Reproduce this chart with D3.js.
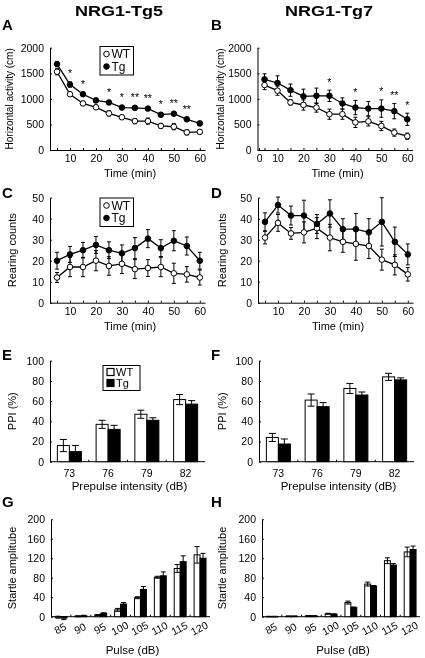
<!DOCTYPE html>
<html><head><meta charset="utf-8">
<script src="https://cdn.jsdelivr.net/npm/d3@7"></script>
<style>
body{margin:0;background:#fff}
svg{display:block;filter:grayscale(100%)}
text{font-family:"Liberation Sans",Arial,Helvetica,sans-serif;fill:#000}
</style>
</head><body>
<svg id="c" width="425" height="658"></svg>
<script>
// ---------- DATA ----------
const timeMin = [5,10,15,20,25,30,35,40,45,50,55,60];

const aWT    = [1530,1090,910,835,715,640,565,565,470,455,345,355];
const aWTErr = [60,40,40,40,50,40,50,60,50,60,50,40];
const aTg    = [1680,1280,1090,970,930,830,825,810,690,710,600,520];
const aTgErr = [50,50,40,40,35,40,40,35,35,35,40,40];

const bWT    = [1270,1160,930,880,830,700,700,540,560,470,340,270];
const bWTErr = [90,90,50,100,90,100,100,100,90,90,70,60];
const bTg    = [1380,1310,1170,1050,1060,1060,910,830,810,810,760,600];
const bTgErr = [110,140,120,140,150,110,110,140,140,170,150,120];

const cWT    = [12,17,17,20,17.5,18.5,16,16.5,17,14,13.5,12];
const cWTErr = [2.4,4.6,4.6,4.8,4.4,4.6,4.5,4,4.6,4.8,3.7,3.6];
const cTg    = [20,23,25,27.5,25,23.5,26,30.5,26,29.5,27,20];
const cTgErr = [4,3.8,3.7,4,4,4,5,4.3,4,4.8,4.3,4];

const dWT    = [31,38,33,33.5,35.5,31,29,28,27,20.5,18,13.5];
const dWTErr = [3,4,2.8,5,5,6.3,5,7.8,6,5,4.8,3.2];
const dTg    = [38.5,46.5,41.5,41.5,37.5,42.5,35,35,33.5,38.5,29,23];
const dTgErr = [4.3,3.8,4.5,7.3,4.5,6.5,5,7.5,6.5,11.5,7,5];

const sigA = [{t:10,s:"*"},{t:15,s:"*"},{t:25,s:"*"},{t:30,s:"*"},{t:35,s:"**"},{t:40,s:"**"},{t:45,s:"*"},{t:50,s:"**"},{t:55,s:"**"}];
const sigB = [{t:30,s:"*"},{t:40,s:"*"},{t:50,s:"*"},{t:55,s:"**"},{t:60,s:"*"}];

const prepulse = ["73","76","79","82"];
const eWT    = [16,37,47,61.5];
const eWTErr = [6,4,4,5];
const eTg    = [10,32,41,57];
const eTgErr = [6,4,2.5,3.5];
const fWT    = [24,61,72.5,84];
const fWTErr = [4,6,5,3.5];
const fTg    = [17.5,54.5,66,81];
const fTgErr = [5,4,3,2];

const pulse = ["85","90","95","100","105","110","115","120"];
const gWT    = [-1,1,3.5,14,39,81,99,127];
const gWTErr = [2,1,1,3,2,2,8,17];
const gTg    = [-3,2,7,26,56,84,113,120];
const gTgErr = [3,1,1,3,6,8,12,10];
const hWT    = [0.5,1,2,6,29,67,115,133];
const hWTErr = [0.3,0.5,0.5,1,3,4,6,10];
const hTg    = [0.5,1,1.5,5,19,63,106,138];
const hTgErr = [0.3,0.5,0.5,1,1,1,3,7];

const lineYTicksA = [0,500,1000,1500,2000];
const lineYTicksC = [0,10,20,30,40,50];
const ppiYTicks = [0,20,40,60,80,100];
const startleYTicks = [0,40,80,120,160,200];

// ---------- DRAWING ----------
const FONT = '"Liberation Sans",Arial,Helvetica,sans-serif';
const svg = d3.select("#c");

function styleAxis(g, fs){
  g.attr("font-family", FONT).attr("font-size", fs);
  g.selectAll("path.domain").attr("stroke","#000").attr("stroke-width",1);
  g.selectAll(".tick line").attr("stroke","#000");
  g.selectAll(".tick text").attr("fill","#000");
}

function txt(x, y, s, o={}){
  const parent = o.parent || svg;
  const t = parent.append("text").attr("x",x).attr("y",y).text(s)
    .attr("font-size", o.fs || 11)
    .attr("text-anchor", o.anchor || "middle")
    .attr("fill","#000");
  if (o.bold) t.attr("font-weight","bold");
  if (o.rot) t.attr("transform",`rotate(${o.rot},${x},${y})`);
  if (o.len) t.attr("textLength", o.len).attr("lengthAdjust","spacingAndGlyphs");
  return t;
}

function linePanel(o){
  const x = d3.scaleLinear().domain([2.3,62]).range([o.x0, o.x0+155]);
  const y = d3.scaleLinear().domain([0, o.yTicks[o.yTicks.length-1]]).range([o.yb, o.yt]);
  const xTicks = (o.zeroLabel ? [2.9] : []).concat(d3.range(5,61,5));
  const xa = d3.axisBottom(x).tickValues(xTicks)
    .tickFormat(d => d < 5 ? "0" : (d % 10 === 0 ? String(d) : ""))
    .tickSizeInner(-2).tickSizeOuter(0).tickPadding(5);
  styleAxis(svg.append("g").attr("transform",`translate(0,${o.yb})`).call(xa), 10.5);
  const ya = d3.axisLeft(y).tickValues(o.yTicks).tickFormat(d=>String(d))
    .tickSizeInner(-2).tickSizeOuter(0).tickPadding(6);
  styleAxis(svg.append("g").attr("transform",`translate(${o.x0},0)`).call(ya), 10.5);

  const line = d3.line().x((d,i)=>x(timeMin[i])).y(d=>y(d));
  const series = [{v:o.wt, e:o.wtErr, fill:"#fff"},{v:o.tg, e:o.tgErr, fill:"#000"}];
  const g = svg.append("g");
  series.forEach(s=>{
    g.append("path").attr("d", line(s.v)).attr("fill","none").attr("stroke","#000").attr("stroke-width",1.3);
  });
  series.forEach(s=>{
    s.v.forEach((v,i)=>{
      const cx = x(timeMin[i]), y1 = y(v - s.e[i]), y2 = y(v + s.e[i]);
      g.append("line").attr("x1",cx).attr("x2",cx).attr("y1",y1).attr("y2",y2).attr("stroke","#000").attr("stroke-width",1);
      [y1,y2].forEach(yy=>g.append("line").attr("x1",cx-2).attr("x2",cx+2).attr("y1",yy).attr("y2",yy).attr("stroke","#000").attr("stroke-width",1));
    });
  });
  series.forEach(s=>{
    s.v.forEach((v,i)=>{
      g.append("circle").attr("cx",x(timeMin[i])).attr("cy",y(v)).attr("r",2.8)
        .attr("fill",s.fill).attr("stroke","#000").attr("stroke-width",1);
    });
  });
  if (o.sig){
    const sg = svg.append("g").attr("class","stars");
    o.sig.forEach(d=>{
      const i = timeMin.indexOf(d.t);
      txt(x(d.t), y(o.tg[i] + o.tgErr[i]) - 4.5, d.s, {fs:10.5, parent:sg});
    });
  }
  if (o.legend){
    const L = o.legend;
    svg.append("rect").attr("x",L.x).attr("y",L.y).attr("width",33.5).attr("height",28.5)
      .attr("fill","#fff").attr("stroke","#000").attr("stroke-width",1);
    [["WT","#fff"],["Tg","#000"]].forEach((e,k)=>{
      const cy = L.y + 7.5 + k*12.5;
      svg.append("circle").attr("cx",L.x+6.5).attr("cy",cy).attr("r",2.8).attr("fill",e[1]).attr("stroke","#000");
      txt(L.x+11.5, cy+4.3, e[0], {fs:12, anchor:"start"});
    });
  }
  txt(o.x0+80, o.yb+27, "Time (min)", {fs:11});
  txt(o.yLabX, (o.yb+o.yt)/2, o.yLabel, {fs:o.yLabFs||11, rot:-90});
}

function barPanel(o){
  const x = d3.scaleBand().domain(o.cats).range([o.x0, o.x1]).paddingInner(0).paddingOuter(0);
  const y = d3.scaleLinear().domain([0, o.yTicks[o.yTicks.length-1]]).range([o.yb, o.yt]);
  const ya = d3.axisLeft(y).tickValues(o.yTicks).tickFormat(d=>String(d))
    .tickSizeInner(-2).tickSizeOuter(0).tickPadding(6);
  styleAxis(svg.append("g").attr("transform",`translate(${o.x0},0)`).call(ya), 10.5);
  svg.append("line").attr("x1",o.x0).attr("x2",o.x1).attr("y1",o.yb).attr("y2",o.yb).attr("stroke","#000");
  o.cats.slice(1).forEach(c=>{
    svg.append("line").attr("x1",x(c)).attr("x2",x(c)).attr("y1",o.yb).attr("y2",o.yb-2).attr("stroke","#000");
  });
  const bw = x.bandwidth()*o.barFrac;
  const series = [{v:o.wt,e:o.wtErr,fill:"#fff",off:-bw},{v:o.tg,e:o.tgErr,fill:"#000",off:0}];
  series.forEach(s=>{
    o.cats.forEach((c,i)=>{
      const v = s.v[i];
      const bx = x(c) + x.bandwidth()/2 + s.off;
      const ytop = y(Math.max(0,v)), ybot = y(Math.min(0,v));
      svg.append("rect").attr("x",bx).attr("y",ytop).attr("width",bw).attr("height",Math.max(0.5,ybot-ytop))
        .attr("fill",s.fill).attr("stroke","#000").attr("stroke-width",1);
      const cx = bx + bw/2, y1 = y(v - s.e[i]), y2 = y(v + s.e[i]);
      svg.append("line").attr("x1",cx).attr("x2",cx).attr("y1",y1).attr("y2",y2).attr("stroke","#000");
      [y1,y2].forEach(yy=>svg.append("line").attr("x1",cx-o.cap).attr("x2",cx+o.cap).attr("y1",yy).attr("y2",yy).attr("stroke","#000"));
    });
  });
  o.cats.forEach(c=>{
    const cx = x(c) + x.bandwidth()/2;
    if (o.rotLabels) {
      txt(cx+1, o.yb+15, c, {fs:10.5, rot:-28});
    } else {
      txt(cx, o.yb+15.5, c, {fs:10.5});
    }
  });
  txt((o.x0+o.x1)/2 + 2, o.xLabY, o.xLabel, {fs:11.5});
  txt(o.yLabX, (o.yb+o.yt)/2, o.yLabel, {fs:11, rot:-90});
  if (o.legend){
    const L = o.legend;
    svg.append("rect").attr("x",L.x).attr("y",L.y).attr("width",37).attr("height",25)
      .attr("fill","#fff").attr("stroke","#000");
    [["WT","#fff"],["Tg","#000"]].forEach((e,k)=>{
      const yy = L.y + 3 + k*11;
      svg.append("rect").attr("x",L.x+4).attr("y",yy).attr("width",7).attr("height",7).attr("fill",e[1]).attr("stroke","#000").attr("stroke-width",1.2);
      txt(L.x+13, yy+7.3, e[0], {fs:11, anchor:"start"});
    });
  }
}

txt(119, 16, "NRG1-Tg5", {fs:14.5, bold:true, len:88});
txt(329, 16, "NRG1-Tg7", {fs:14.5, bold:true, len:88});
[["A",2,30],["B",211,30],["C",2,198],["D",211,198],["E",2,360],["F",211,360],["G",2,507],["H",211,507]]
  .forEach(p=>txt(p[1],p[2],p[0],{fs:15,bold:true,anchor:"start"}));

linePanel({x0:50, yb:150, yt:47.7, yTicks:lineYTicksA, wt:aWT, wtErr:aWTErr, tg:aTg, tgErr:aTgErr,
  sig:sigA, legend:{x:100,y:46.5}, yLabel:"Horizontal activity (cm)", yLabX:13.5, yLabFs:10});
linePanel({x0:257.5, yb:150, yt:47.7, yTicks:lineYTicksA, wt:bWT, wtErr:bWTErr, tg:bTg, tgErr:bTgErr,
  sig:sigB, zeroLabel:true, yLabel:"Horizontal activity (cm)", yLabX:224, yLabFs:10});
linePanel({x0:50, yb:302.7, yt:197.7, yTicks:lineYTicksC, wt:cWT, wtErr:cWTErr, tg:cTg, tgErr:cTgErr,
  legend:{x:100,y:198}, yLabel:"Rearing counts", yLabX:16});
linePanel({x0:258, yb:302.7, yt:197.7, yTicks:lineYTicksC, wt:dWT, wtErr:dWTErr, tg:dTg, tgErr:dTgErr,
  yLabel:"Rearing counts", yLabX:226});

barPanel({cats:prepulse, x0:50, x1:205, yb:461.7, yt:360.7, yTicks:ppiYTicks, wt:eWT, wtErr:eWTErr, tg:eTg, tgErr:eTgErr,
  barFrac:0.31, cap:3.5, xLabel:"Prepulse intensity (dB)", xLabY:490, yLabel:"PPI (%)", yLabX:16, legend:{x:103,y:365.5}});
barPanel({cats:prepulse, x0:259, x1:414, yb:461.7, yt:360.7, yTicks:ppiYTicks, wt:fWT, wtErr:fWTErr, tg:fTg, tgErr:fTgErr,
  barFrac:0.31, cap:3.5, xLabel:"Prepulse intensity (dB)", xLabY:490, yLabel:"PPI (%)", yLabX:226});
barPanel({cats:pulse, x0:51, x1:210, yb:616.7, yt:519.3, yTicks:startleYTicks, wt:gWT, wtErr:gWTErr, tg:gTg, tgErr:gTgErr,
  barFrac:0.3, cap:2.5, rotLabels:true, xLabel:"Pulse (dB)", xLabY:654, yLabel:"Startle amplitube", yLabX:16});
barPanel({cats:pulse, x0:262, x1:420, yb:616.7, yt:519.3, yTicks:startleYTicks, wt:hWT, wtErr:hWTErr, tg:hTg, tgErr:hTgErr,
  barFrac:0.3, cap:2.5, rotLabels:true, xLabel:"Pulse (dB)", xLabY:654, yLabel:"Startle amplitube", yLabX:226});
</script>
</body></html>
